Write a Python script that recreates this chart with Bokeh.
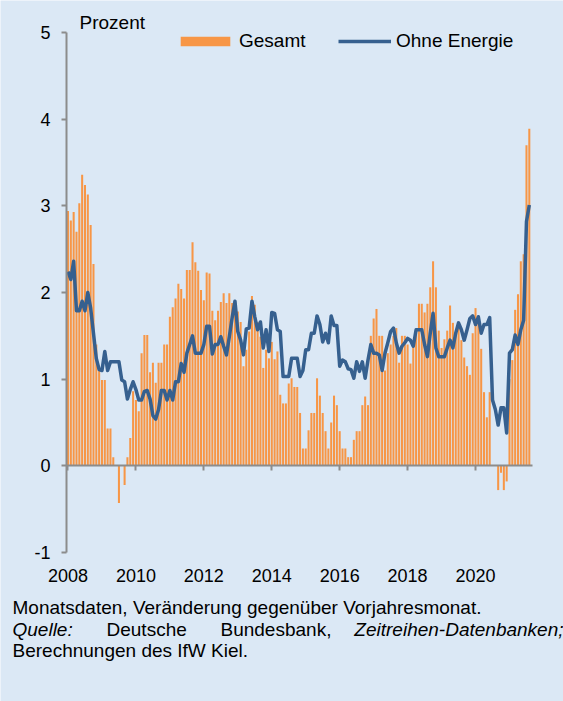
from bokeh.plotting import figure
from bokeh.models import (Range1d, FixedTicker, LinearAxis, Label, Legend,
                          LegendItem, ColumnDataSource)
from bokeh.embed import file_html
from bokeh.resources import INLINE

# ---------------- data (monthly, Jan 2008 - Aug 2021) ----------------
gesamt_2008 = [2.94, 2.83, 2.93, 2.70, 3.03, 3.36, 3.24, 3.13, 2.78, 2.33, 1.40, 1.11]
gesamt_2009 = [0.99, 0.99, 0.43, 0.43, 0.10, 0.00, -0.43, 0.00, -0.22, 0.10, 0.32, 0.86]
gesamt_2010 = [0.76, 0.63, 1.30, 1.51, 1.51, 1.08, 1.19, 0.96, 1.19, 1.19, 1.40, 1.40]
gesamt_2011 = [1.72, 1.83, 1.93, 2.10, 2.04, 1.93, 2.26, 2.26, 2.58, 2.35, 2.25, 2.03]
gesamt_2012 = [1.91, 2.23, 2.22, 1.79, 1.68, 1.79, 1.89, 1.99, 1.88, 1.99, 1.88, 1.90]
gesamt_2013 = [1.78, 1.66, 1.15, 1.34, 1.55, 1.96, 1.86, 1.66, 1.49, 1.13, 1.34, 1.24]
gesamt_2014 = [1.43, 1.23, 1.32, 0.82, 0.72, 0.72, 0.95, 1.01, 0.91, 0.91, 0.61, 0.20]
gesamt_2015 = [0.20, 0.41, 0.61, 0.61, 1.01, 0.81, 0.61, 0.40, 0.20, 0.50, 0.81, 0.70]
gesamt_2016 = [0.40, 0.20, 0.20, 0.10, 0.10, 0.30, 0.40, 0.40, 0.70, 0.80, 0.70, 1.50]
gesamt_2017 = [1.70, 1.81, 1.50, 1.50, 1.10, 1.30, 1.40, 1.50, 1.59, 1.19, 1.50, 1.50]
gesamt_2018 = [1.40, 1.18, 1.38, 1.57, 1.87, 1.87, 1.77, 1.87, 2.06, 2.36, 2.06, 1.56]
gesamt_2019 = [1.36, 1.46, 1.56, 1.85, 1.65, 1.54, 1.65, 1.45, 1.25, 1.15, 1.05, 1.53]
gesamt_2020 = [1.82, 1.72, 1.35, 0.85, 0.56, 0.85, 0.00, 0.00, -0.28, -0.08, -0.28, -0.18]
gesamt_2021 = [1.00, 1.22, 1.80, 1.98, 2.36, 2.44, 3.70, 3.89]

ohne_energie_2008 = [2.24, 2.15, 2.36, 1.79, 1.79, 1.90, 1.79, 2.00, 1.82, 1.53, 1.24, 1.11]
ohne_energie_2009 = [1.10, 1.32, 1.10, 1.20, 1.20, 1.20, 1.20, 0.99, 0.97, 0.77, 0.88, 0.97]
ohne_energie_2010 = [0.88, 0.76, 0.76, 0.86, 0.87, 0.77, 0.58, 0.54, 0.65, 0.87, 0.87, 0.76]
ohne_energie_2011 = [0.87, 0.76, 0.97, 0.97, 1.18, 1.08, 1.30, 1.40, 1.50, 1.30, 1.30, 1.30]
ohne_energie_2012 = [1.40, 1.61, 1.61, 1.29, 1.40, 1.40, 1.49, 1.38, 1.28, 1.49, 1.71, 1.90]
ohne_energie_2013 = [1.55, 1.45, 1.28, 1.58, 1.59, 1.90, 1.72, 1.57, 1.66, 1.36, 1.57, 1.32]
ohne_energie_2014 = [1.77, 1.76, 1.57, 1.55, 1.03, 1.03, 1.03, 1.24, 1.24, 1.24, 1.03, 1.10]
ohne_energie_2015 = [1.34, 1.34, 1.53, 1.53, 1.73, 1.63, 1.43, 1.53, 1.42, 1.73, 1.62, 1.62]
ohne_energie_2016 = [1.15, 1.22, 1.20, 1.12, 1.11, 1.01, 1.20, 1.09, 1.20, 1.01, 1.22, 1.40]
ohne_energie_2017 = [1.30, 1.30, 1.28, 1.10, 1.30, 1.42, 1.55, 1.59, 1.42, 1.30, 1.38, 1.42]
ohne_energie_2018 = [1.47, 1.45, 1.38, 1.57, 1.57, 1.57, 1.40, 1.26, 1.53, 1.76, 1.36, 1.26]
ohne_energie_2019 = [1.26, 1.26, 1.36, 1.45, 1.36, 1.53, 1.65, 1.57, 1.45, 1.57, 1.70, 1.73]
ohne_energie_2020 = [1.63, 1.72, 1.53, 1.63, 1.63, 1.71, 0.76, 0.65, 0.47, 0.67, 0.67, 0.38]
ohne_energie_2021 = [1.30, 1.34, 1.51, 1.40, 1.57, 1.68, 2.82, 3.01]

first_year = 2008
x_tick_years = [2008, 2010, 2012, 2014, 2016, 2018, 2020]
y_ticks = [-1, 0, 1, 2, 3, 4, 5]
series_names = ["Gesamt", "Ohne Energie"]
y_unit = "Prozent"
note_lines = ["Monatsdaten, Veränderung gegenüber Vorjahresmonat.",
              "Berechnungen des IfW Kiel."]
source_words = ["Quelle:", "Deutsche", "Bundesbank,", "Zeitreihen-Datenbanken;"]

gesamt = (gesamt_2008 + gesamt_2009 + gesamt_2010 + gesamt_2011 + gesamt_2012 +
          gesamt_2013 + gesamt_2014 + gesamt_2015 + gesamt_2016 + gesamt_2017 +
          gesamt_2018 + gesamt_2019 + gesamt_2020 + gesamt_2021)
ohne_energie = (ohne_energie_2008 + ohne_energie_2009 + ohne_energie_2010 +
                ohne_energie_2011 + ohne_energie_2012 + ohne_energie_2013 +
                ohne_energie_2014 + ohne_energie_2015 + ohne_energie_2016 +
                ohne_energie_2017 + ohne_energie_2018 + ohne_energie_2019 +
                ohne_energie_2020 + ohne_energie_2021)
month = list(range(len(gesamt)))

src = ColumnDataSource(dict(m=month, g=gesamt, e=ohne_energie))

# ---------------- styling / layout ----------------
BG = "#DBE8F5"
ORANGE = "#F79646"
BLUE = "#36608F"
GREY = "#8C8C8C"
FONT = "Liberation Sans"
FS = "18px"      # axis tick labels
FS_TXT = "19px"  # legend, unit, footer

W, H = 563, 701
AX_X = -0.53                    # x of the value axis (left end of the time axis)
AX_X_END = len(gesamt) + 0.13   # right end of the time axis
AX_PX_LEFT, AX_PX_RIGHT = 66, 532
PPX = (AX_PX_RIGHT - AX_PX_LEFT) / (AX_X_END - AX_X)
Y_MIN, Y_MAX = y_ticks[0], y_ticks[-1]
AX_PX_TOP, AX_PX_BOTTOM = 32, 552
PPY = (AX_PX_BOTTOM - AX_PX_TOP) / (Y_MAX - Y_MIN)

X_LEFT = AX_X - AX_PX_LEFT / PPX
X_RIGHT = X_LEFT + W / PPX
Y_TOP = Y_MAX + AX_PX_TOP / PPY
Y_BOTTOM = Y_TOP - H / PPY


def dx(px):
    return X_LEFT + px / PPX


def dy(py):
    return Y_TOP - py / PPY


p = figure(width=W, height=H, output_backend="svg", toolbar_location=None,
           x_range=Range1d(X_LEFT, X_RIGHT), y_range=Range1d(Y_BOTTOM, Y_TOP),
           x_axis_location=None, y_axis_location=None,
           min_border=0, min_border_left=0, min_border_right=0,
           min_border_top=0, min_border_bottom=0,
           background_fill_color=BG, border_fill_color=BG,
           outline_line_color=None)
for g in p.grid:
    g.visible = False

# bars and line
r_bar = p.vbar(x="m", top="g", bottom=0, width=0.72, source=src,
               fill_color=ORANGE, line_color=None)
r_line = p.line(x="m", y="e", source=src, line_color=BLUE, line_width=3.5,
                line_join="round")

# value axis
ya = LinearAxis(fixed_location=AX_X, ticker=FixedTicker(ticks=y_ticks),
                bounds=(Y_MIN, Y_MAX))
ya.major_label_overrides = {t: str(t) for t in y_ticks}
ya.axis_line_color = GREY
ya.axis_line_width = 2
ya.major_tick_line_color = GREY
ya.major_tick_line_width = 2
ya.major_tick_out = 5
ya.major_tick_in = 0
ya.minor_tick_line_color = None
ya.major_label_standoff = 11
ya.major_label_text_font = FONT
ya.major_label_text_font_size = FS
ya.major_label_text_color = "black"
p.add_layout(ya, "left")

# year labels under the plot
tick_pos = [12 * (y - first_year) for y in x_tick_years]
xa = LinearAxis(fixed_location=Y_MIN, ticker=FixedTicker(ticks=tick_pos))
xa.major_label_overrides = {t: str(y) for t, y in zip(tick_pos, x_tick_years)}
xa.axis_line_color = None
xa.major_tick_line_color = None
xa.minor_tick_line_color = None
xa.major_tick_out = 0
xa.major_tick_in = 0
xa.major_label_standoff = 16
xa.major_label_text_font = FONT
xa.major_label_text_font_size = FS
xa.major_label_text_color = "black"
p.add_layout(xa, "below")

# zero line (time axis) with year ticks
za = LinearAxis(fixed_location=0, ticker=FixedTicker(ticks=tick_pos),
                bounds=(AX_X, AX_X_END))
za.axis_line_color = GREY
za.axis_line_width = 2
za.major_tick_line_color = GREY
za.major_tick_line_width = 2
za.major_tick_out = 5
za.major_tick_in = 0
za.minor_tick_line_color = None
za.major_label_overrides = {t: "" for t in tick_pos}
za.major_label_text_color = None
p.add_layout(za, "below")

# legends (one per entry so that each swatch gets its own size)
common = dict(orientation="horizontal", padding=0, margin=0, spacing=0,
              background_fill_alpha=0, border_line_color=None,
              label_text_font=FONT, label_text_font_size=FS_TXT,
              label_text_color="black", label_height=12, glyph_height=12)
leg1 = Legend(items=[LegendItem(label=series_names[0], renderers=[r_bar])],
              location=(174, H - 52), glyph_width=62, label_standoff=3, **common)
leg2 = Legend(items=[LegendItem(label=series_names[1], renderers=[r_line])],
              location=(338, H - 52), glyph_width=53, label_standoff=5, **common)
p.add_layout(leg1, "center")
p.add_layout(leg2, "center")

# unit label
p.add_layout(Label(x=dx(79), y=dy(22), text=y_unit, text_baseline="middle",
                   text_font=FONT, text_font_size=FS_TXT, text_color="black"))

# footer
p.add_layout(Label(x=dx(12), y=dy(607), text=note_lines[0], text_baseline="middle",
                   text_font=FONT, text_font_size=FS_TXT, text_color="black"))
word_x = [12, 106, 220, 563]
word_align = ["left", "left", "left", "right"]
word_style = ["italic", "normal", "normal", "italic"]
for w, xpx, al, st in zip(source_words, word_x, word_align, word_style):
    p.add_layout(Label(x=dx(xpx), y=dy(629), text=w, text_align=al,
                       text_baseline="middle", text_font=FONT,
                       text_font_size=FS_TXT, text_font_style=st,
                       text_color="black"))
p.add_layout(Label(x=dx(12), y=dy(650), text=note_lines[1], text_baseline="middle",
                   text_font=FONT, text_font_size=FS_TXT, text_color="black"))

open("out.html", "w").write(file_html(p, INLINE))
